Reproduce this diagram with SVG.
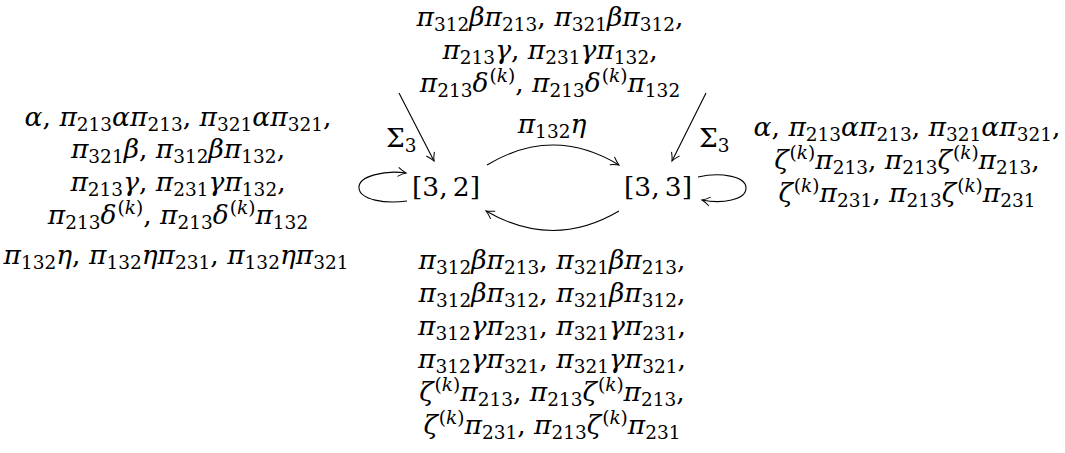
<svg xmlns="http://www.w3.org/2000/svg" width="1065" height="453" viewBox="0 0 1065 453">
<style>
text{font-family:"DejaVu Serif",serif;font-size:26.5px;fill:#000;}
.i{font-style:italic}
.s{font-size:18.5px;baseline-shift:-4.5px}
.p{font-size:18.5px;baseline-shift:10px}
.c{text-anchor:middle}
.e{fill:none;stroke:#000;stroke-width:1.1}
</style>
<defs>
<marker id="ah" markerWidth="12" markerHeight="12" refX="0" refY="0" viewBox="-9 -6 11 12" orient="auto" markerUnits="userSpaceOnUse">
<path d="M -8 -4.5 Q -3 -1 0 0 Q -3 1 -8 4.5" fill="none" stroke="#000" stroke-width="1"/>
</marker>
</defs>
<g id="connectors">
<path class="e" d="M 399 93 L 434 161" marker-end="url(#ah)"/>
<path class="e" d="M 706 93 L 672 161" marker-end="url(#ah)"/>
<path class="e" d="M 487 165 Q 553 125 619 165" marker-end="url(#ah)"/>
<path class="e" d="M 619 211 Q 553 250 486 211" marker-end="url(#ah)"/>
<path class="e" d="M 407 201 C 385 204, 360 200, 359 188 C 358 176, 385 170, 406 173" marker-end="url(#ah)"/>
<path class="e" d="M 698 177 C 720 172, 746 176, 746 188 C 746 200, 722 204, 702 200" marker-end="url(#ah)"/>
</g>
<g id="n32"><text class="c" x="446" y="196">[3,&#8201;2]</text></g>
<g id="n33"><text class="c" x="658" y="196">[3,&#8201;3]</text></g>
<g id="label-sigma-left"><text x="386" y="147">Σ<tspan class="s">3</tspan></text></g>
<g id="label-sigma-right"><text x="699" y="147">Σ<tspan class="s">3</tspan></text></g>
<g id="label-eta"><text class="c" x="552" y="133"><tspan class="i">π</tspan><tspan class="s">132</tspan><tspan class="i">η</tspan></text></g>
<g id="label-top">
<text class="c" x="550" y="26"><tspan class="i">π</tspan><tspan class="s">312</tspan><tspan class="i">βπ</tspan><tspan class="s">213</tspan>, <tspan class="i">π</tspan><tspan class="s">321</tspan><tspan class="i">βπ</tspan><tspan class="s">312</tspan>,</text>
<text class="c" x="550" y="59"><tspan class="i">π</tspan><tspan class="s">213</tspan><tspan class="i">γ</tspan>, <tspan class="i">π</tspan><tspan class="s">231</tspan><tspan class="i">γπ</tspan><tspan class="s">132</tspan>,</text>
<text class="c" x="550" y="92"><tspan class="i">π</tspan><tspan class="s">213</tspan><tspan class="i">δ</tspan><tspan class="p" dx="1">(<tspan class="i">k</tspan>)</tspan>, <tspan class="i">π</tspan><tspan class="s">213</tspan><tspan class="i">δ</tspan><tspan class="p" dx="1">(<tspan class="i">k</tspan>)</tspan><tspan class="i">π</tspan><tspan class="s">132</tspan></text>
</g>
<g id="label-left">
<text class="c" x="178" y="126"><tspan class="i">α</tspan>, <tspan class="i">π</tspan><tspan class="s">213</tspan><tspan class="i">απ</tspan><tspan class="s">213</tspan>, <tspan class="i">π</tspan><tspan class="s">321</tspan><tspan class="i">απ</tspan><tspan class="s">321</tspan>,</text>
<text class="c" x="178" y="158"><tspan class="i">π</tspan><tspan class="s">321</tspan><tspan class="i">β</tspan>, <tspan class="i">π</tspan><tspan class="s">312</tspan><tspan class="i">βπ</tspan><tspan class="s">132</tspan>,</text>
<text class="c" x="178" y="191"><tspan class="i">π</tspan><tspan class="s">213</tspan><tspan class="i">γ</tspan>, <tspan class="i">π</tspan><tspan class="s">231</tspan><tspan class="i">γπ</tspan><tspan class="s">132</tspan>,</text>
<text class="c" x="178" y="224"><tspan class="i">π</tspan><tspan class="s">213</tspan><tspan class="i">δ</tspan><tspan class="p" dx="1">(<tspan class="i">k</tspan>)</tspan>, <tspan class="i">π</tspan><tspan class="s">213</tspan><tspan class="i">δ</tspan><tspan class="p" dx="1">(<tspan class="i">k</tspan>)</tspan><tspan class="i">π</tspan><tspan class="s">132</tspan></text>
<text class="c" x="176" y="264"><tspan class="i">π</tspan><tspan class="s">132</tspan><tspan class="i">η</tspan>, <tspan class="i">π</tspan><tspan class="s">132</tspan><tspan class="i">ηπ</tspan><tspan class="s">231</tspan>, <tspan class="i">π</tspan><tspan class="s">132</tspan><tspan class="i">ηπ</tspan><tspan class="s">321</tspan></text>
</g>
<g id="label-right">
<text class="c" x="907" y="136"><tspan class="i">α</tspan>, <tspan class="i">π</tspan><tspan class="s">213</tspan><tspan class="i">απ</tspan><tspan class="s">213</tspan>, <tspan class="i">π</tspan><tspan class="s">321</tspan><tspan class="i">απ</tspan><tspan class="s">321</tspan>,</text>
<text class="c" x="907" y="169"><tspan class="i">ζ</tspan><tspan class="p" dx="1">(<tspan class="i">k</tspan>)</tspan><tspan class="i">π</tspan><tspan class="s">213</tspan>, <tspan class="i">π</tspan><tspan class="s">213</tspan><tspan class="i">ζ</tspan><tspan class="p" dx="1">(<tspan class="i">k</tspan>)</tspan><tspan class="i">π</tspan><tspan class="s">213</tspan>,</text>
<text class="c" x="907" y="202"><tspan class="i">ζ</tspan><tspan class="p" dx="1">(<tspan class="i">k</tspan>)</tspan><tspan class="i">π</tspan><tspan class="s">231</tspan>, <tspan class="i">π</tspan><tspan class="s">213</tspan><tspan class="i">ζ</tspan><tspan class="p" dx="1">(<tspan class="i">k</tspan>)</tspan><tspan class="i">π</tspan><tspan class="s">231</tspan></text>
</g>
<g id="label-bottom">
<text class="c" x="552" y="269"><tspan class="i">π</tspan><tspan class="s">312</tspan><tspan class="i">βπ</tspan><tspan class="s">213</tspan>, <tspan class="i">π</tspan><tspan class="s">321</tspan><tspan class="i">βπ</tspan><tspan class="s">213</tspan>,</text>
<text class="c" x="552" y="302"><tspan class="i">π</tspan><tspan class="s">312</tspan><tspan class="i">βπ</tspan><tspan class="s">312</tspan>, <tspan class="i">π</tspan><tspan class="s">321</tspan><tspan class="i">βπ</tspan><tspan class="s">312</tspan>,</text>
<text class="c" x="552" y="335"><tspan class="i">π</tspan><tspan class="s">312</tspan><tspan class="i">γπ</tspan><tspan class="s">231</tspan>, <tspan class="i">π</tspan><tspan class="s">321</tspan><tspan class="i">γπ</tspan><tspan class="s">231</tspan>,</text>
<text class="c" x="552" y="368"><tspan class="i">π</tspan><tspan class="s">312</tspan><tspan class="i">γπ</tspan><tspan class="s">321</tspan>, <tspan class="i">π</tspan><tspan class="s">321</tspan><tspan class="i">γπ</tspan><tspan class="s">321</tspan>,</text>
<text class="c" x="552" y="401"><tspan class="i">ζ</tspan><tspan class="p" dx="1">(<tspan class="i">k</tspan>)</tspan><tspan class="i">π</tspan><tspan class="s">213</tspan>, <tspan class="i">π</tspan><tspan class="s">213</tspan><tspan class="i">ζ</tspan><tspan class="p" dx="1">(<tspan class="i">k</tspan>)</tspan><tspan class="i">π</tspan><tspan class="s">213</tspan>,</text>
<text class="c" x="552" y="434"><tspan class="i">ζ</tspan><tspan class="p" dx="1">(<tspan class="i">k</tspan>)</tspan><tspan class="i">π</tspan><tspan class="s">231</tspan>, <tspan class="i">π</tspan><tspan class="s">213</tspan><tspan class="i">ζ</tspan><tspan class="p" dx="1">(<tspan class="i">k</tspan>)</tspan><tspan class="i">π</tspan><tspan class="s">231</tspan></text>
</g>
</svg>
